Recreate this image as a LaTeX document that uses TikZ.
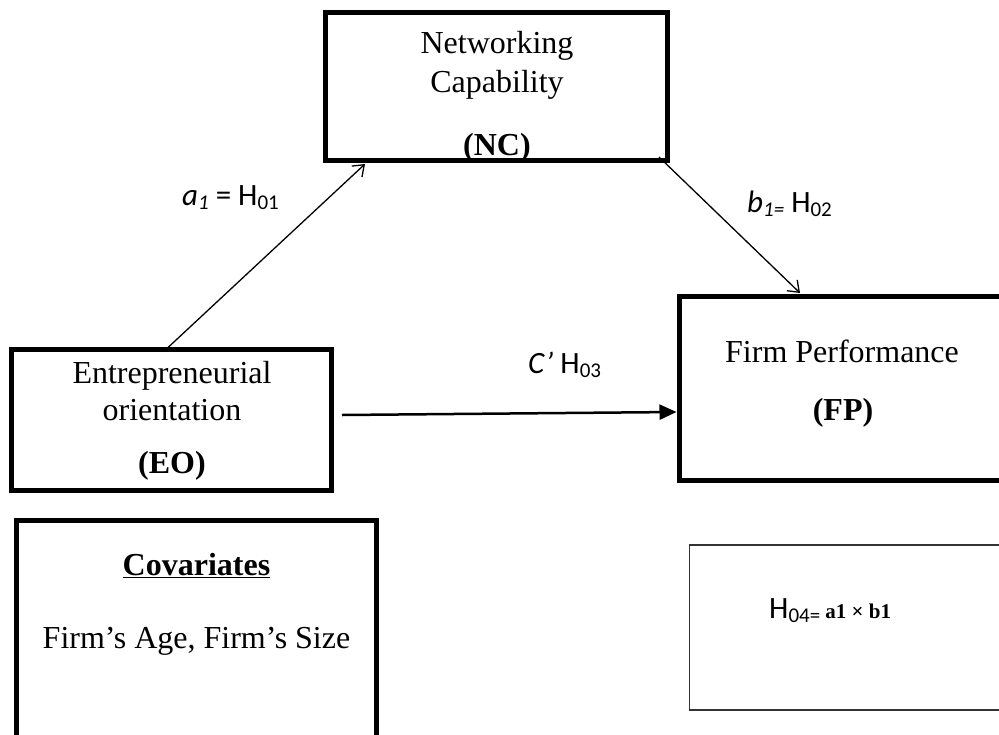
\documentclass[tikz,border=0pt]{standalone}
\usepackage{fontspec}
\setmainfont{Liberation Serif}
\newfontfamily\calfont{Carlito}
\usetikzlibrary{arrows.meta,calc}
\newcommand\lowsub[1]{\raisebox{-0.16em}{\fontsize{21}{21}\selectfont #1}}
\begin{document}
\begin{tikzpicture}[x=1pt,y=-1pt,
  frame/.style={draw, line width=5pt, inner sep=0pt, outer sep=0pt},
  thinframe/.style={draw=black!80, line width=1.6pt, inner sep=0pt, outer sep=0pt},
  txt/.style={font=\fontsize{32}{38}\selectfont, inner sep=0pt, anchor=base},
  lbl/.style={font=\calfont\fontsize{31}{37}\selectfont, inner sep=0pt, anchor=base west},
  thinarrow/.style={line width=1.3pt, -{Straight Barb[length=10pt,width=15pt,line width=1.3pt]}},
  mainarrow/.style={line width=2.5pt, -{Triangle[length=17pt,width=15pt]}}
]
\useasboundingbox (0,0) rectangle (999,734);
\clip (0,0) rectangle (999,734);
\fill[white] (0,0) rectangle (999,734);

% boxes
\node[frame, minimum width=342pt, minimum height=148pt] (nc) at (496.5,86.5) {};
\node[frame, minimum width=320pt, minimum height=141pt] (eo) at (171.5,420) {};
\node[frame, minimum width=341pt, minimum height=184pt] (fp) at (849.5,388) {};
\node[frame, minimum width=360pt, minimum height=240pt] (cov) at (196.5,640.5) {};
\node[thinframe, minimum width=330pt, minimum height=165pt] (hbox) at (854.5,627.5) {};

% texts
\node[txt] (nc1) at (497,53) {Networking};
\node[txt] (nc2) at (497,92) {Capability};
\node[txt, font=\fontsize{32}{38}\selectfont\bfseries] (nc3) at (497,155) {(NC)};

\node[txt] (eo1) at (172,383) {Entrepreneurial};
\node[txt] (eo2) at (172,420) {orientation};
\node[txt, font=\fontsize{32}{38}\selectfont\bfseries] (eo3) at (172,473) {(EO)};

\node[txt] (fp1) at (842,362) {Firm Performance};
\node[txt, font=\fontsize{32}{38}\selectfont\bfseries] (fp2) at (843,420) {(FP)};

\node[txt, font=\fontsize{32}{38}\selectfont\bfseries] (cov1) at (196.5,575) {\underline{Covariates}};
\node[txt] (cov2) at (196.5,648) {Firm’s Age, Firm’s Size};

% labels
\node[lbl] (la) at (182,205) {{\itshape a\lowsub{1}} = H\lowsub{01}};
\node[lbl] (lb) at (747,212) {{\itshape b\lowsub{1=}} H\lowsub{02}};
\node[lbl] (lc) at (528,373) {{\itshape C’} H\lowsub{03}};
\node[lbl] (lh) at (769,618) {H\lowsub{04=}\,{\rmfamily\bfseries\fontsize{21}{21}\selectfont a1 × b1}};

% connectors
\draw[thinarrow] ($(eo.north)+(-3.5,-2)$) -- ($(nc.south west)+(39.5,3.5)$);
\draw[thinarrow] ($(nc.south east)+(-8.5,-3.5)$) -- ($(fp.north west)+(121,-3)$);
\draw[mainarrow] ($(eo.east)+(10.5,-5)$) -- ($(fp.west)+(-2.5,24)$);
\end{tikzpicture}
\end{document}
